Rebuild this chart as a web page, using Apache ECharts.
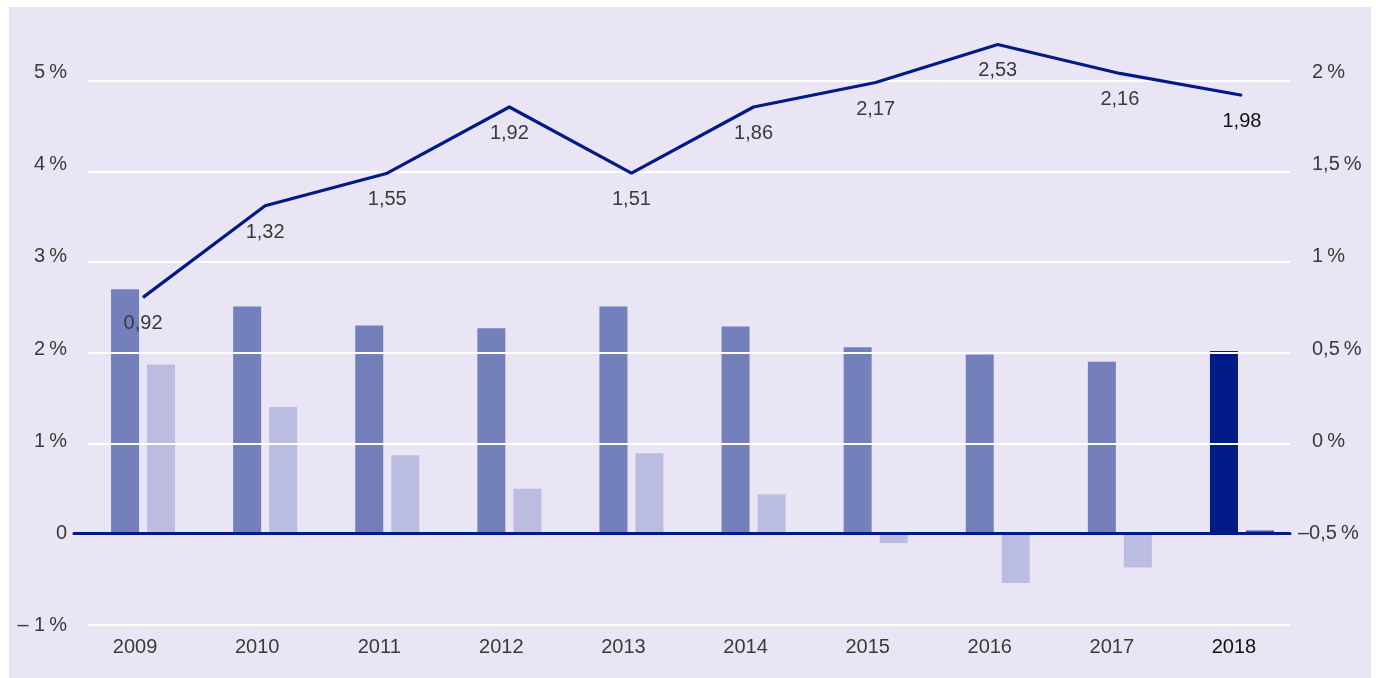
<!DOCTYPE html>
<html>
<head>
<meta charset="utf-8">
<script src="https://cdn.jsdelivr.net/npm/echarts@6/dist/echarts.min.js"></script>
<style>
html,body{margin:0;padding:0;background:#ffffff;}
#chart{width:1376px;height:678px;}
</style>
</head>
<body>
<div id="chart"></div>
<script>
// ---- data ----
var years = ['2009','2010','2011','2012','2013','2014','2015','2016','2017','2018'];
var darkBars = [2.70, 2.51, 2.30, 2.27, 2.51, 2.29, 2.06, 1.98, 1.90, 2.02];
var lightBars = [1.87, 1.40, 0.87, 0.50, 0.89, 0.44, -0.10, -0.54, -0.37, 0.04];
var lineValues = [2.61, 3.62, 3.98, 4.71, 3.98, 4.71, 4.98, 5.40, 5.08, 4.84];
var lineLabels = ['0,92','1,32','1,55','1,92','1,51','1,86','2,17','2,53','2,16','1,98'];
var leftTickValues = [-1, 0, 1, 2, 3, 4, 5];
var leftTickLabels = ['\u2013 1\u2009%', '0', '1\u2009%', '2\u2009%', '3\u2009%', '4\u2009%', '5\u2009%'];
var rightTickValues = [-1, -0.5, 0, 0.5, 1, 1.5, 2];
var rightTickLabels = ['', '\u20130,5\u2009%', '0\u2009%', '0,5\u2009%', '1\u2009%', '1,5\u2009%', '2\u2009%'];

// ---- styles ----
var FONT = 'Liberation Sans';
var FS = 20;
var TXT = '#3a3a3a';
var TXT_EM = '#111111';
var NAVY = '#001a86';
var DARK = '#7480bb';
var LIGHT = '#babde0';
var BG = '#e9e5f4';
var lastIdx = years.length - 1;

function pick(vals, labels, v) {
  for (var i = 0; i < vals.length; i++) if (Math.abs(vals[i] - v) < 1e-6) return labels[i];
  return '';
}

var darkData = darkBars.map(function (v, i) {
  return i === lastIdx ? { value: v, itemStyle: { color: NAVY } } : v;
});
var lightData = lightBars.map(function (v, i) {
  return i === lastIdx ? { value: v, itemStyle: { color: '#4b56a6' } } : v;
});
var lineData = lineValues.map(function (v, i) {
  return i === lastIdx ? { value: v, label: { color: TXT_EM } } : v;
});

var chart = echarts.init(document.getElementById('chart'), null, { renderer: 'canvas' });
var option = {
  animation: false,
  backgroundColor: '#ffffff',
  textStyle: { fontFamily: FONT },
  graphic: [{
    type: 'rect', z: -10, silent: true,
    shape: { x: 9, y: 7, width: 1362, height: 671 },
    style: { fill: BG }
  }],
  grid: [
    // 0: tick labels + zero line
    { left: 74, right: 86, top: 72.5, bottom: 52.5 },
    // 1: gridlines
    { left: 88, right: 86, top: 80.7, bottom: 53.3 },
    // 2: bars and line
    { left: 82, right: 73, top: 80.7, bottom: 53.3 }
  ],
  xAxis: [
    { gridIndex: 0, type: 'category', data: years, z: 4,
      axisLine: { show: true, onZero: true, onZeroAxisIndex: 0, lineStyle: { color: NAVY, width: 3 } },
      axisTick: { show: false }, axisLabel: { show: false }, splitLine: { show: false } },
    { gridIndex: 1, type: 'category', data: years, show: false },
    { gridIndex: 2, type: 'category', data: years,
      axisLine: { show: false }, axisTick: { show: false }, splitLine: { show: false },
      axisLabel: {
        margin: 13, fontSize: FS, fontFamily: FONT, color: TXT, padding: [0, 16, 0, 0],
        formatter: function (v) { return v === years[lastIdx] ? '{em|' + v + '}' : v; },
        rich: { em: { color: TXT_EM, fontSize: FS, fontFamily: FONT } }
      } }
  ],
  yAxis: [
    { gridIndex: 0, type: 'value', position: 'left', min: -1, max: 5, interval: 1,
      axisLine: { show: false }, axisTick: { show: false }, splitLine: { show: false },
      axisLabel: { margin: 7, fontSize: FS, fontFamily: FONT, color: TXT,
        formatter: function (v) { return pick(leftTickValues, leftTickLabels, v); } } },
    { gridIndex: 0, type: 'value', position: 'right', min: -1, max: 2, interval: 0.5,
      axisLine: { show: false }, axisTick: { show: false }, splitLine: { show: false },
      axisLabel: { margin: 8, fontSize: FS, fontFamily: FONT, color: TXT, align: 'left',
        showMinLabel: false,
        formatter: function (v) {
          var t = pick(rightTickValues, rightTickLabels, v);
          if (!t) return '';
          return v < 0 ? '{n|' + t + '}' : '{p|}{n|' + t + '}';
        },
        rich: { p: { width: 14 }, n: { fontSize: FS, fontFamily: FONT, color: TXT } } } },
    { gridIndex: 1, type: 'value', min: -1, max: 5, interval: 1, z: 3,
      axisLine: { show: false }, axisTick: { show: false }, axisLabel: { show: false },
      splitLine: { show: true, lineStyle: { color: '#ffffff', width: 2 } } },
    { gridIndex: 2, type: 'value', min: -1, max: 5, interval: 1, show: false,
      splitLine: { show: false } }
  ],
  series: [
    { type: 'bar', xAxisIndex: 2, yAxisIndex: 3, data: darkData, barWidth: 28, barGap: '28.6%',
      itemStyle: { color: DARK }, z: 2 },
    { type: 'bar', xAxisIndex: 2, yAxisIndex: 3, data: lightData, barWidth: 28, barGap: '28.6%',
      itemStyle: { color: LIGHT }, z: 2 },
    { type: 'line', xAxisIndex: 2, yAxisIndex: 3, data: lineData, z: 5, clip: false,
      symbol: 'circle', symbolSize: 1, showSymbol: true,
      itemStyle: { color: NAVY },
      lineStyle: { color: NAVY, width: 3.2 },
      label: { show: true, position: 'bottom', distance: 16, fontSize: FS, fontFamily: FONT, color: TXT,
        formatter: function (p) { return lineLabels[p.dataIndex]; } } }
  ]
};
chart.setOption(option);
</script>
</body>
</html>
